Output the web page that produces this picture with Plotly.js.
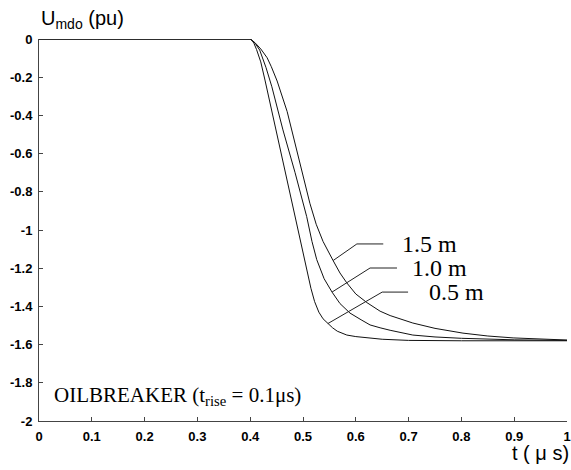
<!DOCTYPE html>
<html>
<head>
<meta charset="utf-8">
<script src="https://cdn.plot.ly/plotly-3.0.1.min.js"></script>
<style>html,body{margin:0;padding:0;background:#fff;}#chart{width:571px;height:470px;}</style>
</head>
<body>
<div id="chart"></div>
<script>
// Time axis (microseconds) and voltage (pu) for each cable length
const t05 = [0, 0.4, 0.403, 0.407, 0.412, 0.42, 0.428, 0.45, 0.47, 0.49, 0.507, 0.515, 0.522, 0.53, 0.538, 0.547, 0.556, 0.565, 0.583, 0.6, 0.627, 0.65, 0.7, 0.8, 1.0];
const u05 = [0, 0, -0.006, -0.022, -0.055, -0.12, -0.215, -0.49, -0.74, -0.995, -1.21, -1.305, -1.375, -1.43, -1.465, -1.49, -1.512, -1.53, -1.55, -1.558, -1.567, -1.572, -1.578, -1.58, -1.58];

const t10 = [0, 0.4, 0.404, 0.41, 0.418, 0.43, 0.441, 0.462, 0.485, 0.498, 0.507, 0.517, 0.526, 0.54, 0.555, 0.57, 0.589, 0.61, 0.627, 0.646, 0.665, 0.708, 0.75, 0.8, 0.9, 1.0];
const u10 = [0, 0, -0.008, -0.025, -0.058, -0.15, -0.25, -0.476, -0.70, -0.83, -0.93, -1.06, -1.155, -1.255, -1.325, -1.385, -1.435, -1.47, -1.497, -1.512, -1.525, -1.55, -1.56, -1.567, -1.575, -1.578];

const t15 = [0, 0.4, 0.405, 0.41, 0.42, 0.432, 0.44, 0.451, 0.47, 0.5, 0.513, 0.525, 0.538, 0.557, 0.57, 0.583, 0.6, 0.621, 0.646, 0.665, 0.708, 0.75, 0.803, 0.85, 0.898, 1.0];
const u15 = [0, 0, -0.01, -0.022, -0.052, -0.098, -0.145, -0.22, -0.38, -0.72, -0.86, -0.97, -1.06, -1.16, -1.225, -1.277, -1.335, -1.38, -1.425, -1.448, -1.487, -1.515, -1.54, -1.555, -1.565, -1.576];

const xTickVals = [0, 0.1, 0.2, 0.3, 0.4, 0.5, 0.6, 0.7, 0.8, 0.9, 1];
const xTickText = ["0", "0.1", "0.2", "0.3", "0.4", "0.5", "0.6", "0.7", "0.8", "0.9", "1"];
const yTickVals = [0, -0.2, -0.4, -0.6, -0.8, -1, -1.2, -1.4, -1.6, -1.8, -2];
const yTickText = ["0", "-0.2", "-0.4", "-0.6", "-0.8", "-1", "-1.2", "-1.4", "-1.6", "-1.8", "-2"];

// Curve labels with leader lines (label text, curve point, elbow, end of horizontal)
const labels = ["1.5 m", "1.0 m", "0.5 m"];
const leaderX = [[0.557, 0.602, 0.652], [0.555, 0.627, 0.678], [0.547, 0.65, 0.699]];
const leaderY = [[-1.16, -1.073, -1.073], [-1.325, -1.199, -1.199], [-1.49, -1.325, -1.325]];
const labelX = [0.684, 0.703, 0.735];

const lineStyle = {color: '#111', width: 1};
const traces = [
  {x: t05, y: u05, mode: 'lines', line: lineStyle, name: '0.5 m'},
  {x: t10, y: u10, mode: 'lines', line: lineStyle, name: '1.0 m'},
  {x: t15, y: u15, mode: 'lines', line: lineStyle, name: '1.5 m'}
];
// leader lines as traces
labels.forEach((lab, i) => {
  traces.push({x: leaderX[i], y: leaderY[i], mode: 'lines', line: {color: '#222', width: 1}, hoverinfo: 'skip'});
});

const annotations = labels.map((lab, i) => ({
  x: labelX[i], y: leaderY[i][2], xref: 'x', yref: 'y', text: lab, showarrow: false,
  xanchor: 'left', yanchor: 'middle',
  font: {family: 'Liberation Serif, Times New Roman, serif', size: 24, color: '#000'}
}));
annotations.push({
  x: 0.0246, y: 0.065, xref: 'paper', yref: 'paper', xanchor: 'left', yanchor: 'middle',
  text: 'OILBREAKER (t<sub>rise</sub> = 0.1μs)', showarrow: false,
  font: {family: 'Liberation Serif, Times New Roman, serif', size: 21, color: '#000'}
});
annotations.push({
  x: 0.0, y: 1.05, xref: 'paper', yref: 'paper', xanchor: 'left', yanchor: 'middle',
  text: 'U<sub>mdo</sub> (pu)', showarrow: false,
  font: {family: 'Liberation Sans, Arial, sans-serif', size: 20, color: '#000'}
});
annotations.push({
  x: 1.0076, y: -0.083, xref: 'paper', yref: 'paper', xanchor: 'right', yanchor: 'middle',
  text: 't ( μ s)', showarrow: false,
  font: {family: 'Liberation Sans, Arial, sans-serif', size: 20, color: '#000'}
});

const tickFont = {family: 'Liberation Sans, Arial, sans-serif', size: 13, color: '#000', weight: 700};
const layout = {
  width: 571, height: 470,
  margin: {l: 39, r: 4, t: 39, b: 49},
  paper_bgcolor: '#fff', plot_bgcolor: '#fff',
  showlegend: false,
  xaxis: {
    range: [0, 1], tickvals: xTickVals, ticktext: xTickText,
    ticks: 'inside', ticklen: 4, tickcolor: '#444',
    showline: true, linecolor: '#444', linewidth: 1,
    showgrid: false, zeroline: false, tickfont: tickFont, ticklabelstandoff: 3
  },
  yaxis: {
    range: [-2, 0], tickvals: yTickVals, ticktext: yTickText,
    ticks: 'inside', ticklen: 4, tickcolor: '#444',
    showline: true, linecolor: '#444', linewidth: 1,
    showgrid: false, zeroline: false, tickfont: tickFont, ticklabelstandoff: 3
  },
  annotations: annotations
};
Plotly.newPlot('chart', traces, layout, {staticPlot: true, displayModeBar: false});
</script>
</body>
</html>
